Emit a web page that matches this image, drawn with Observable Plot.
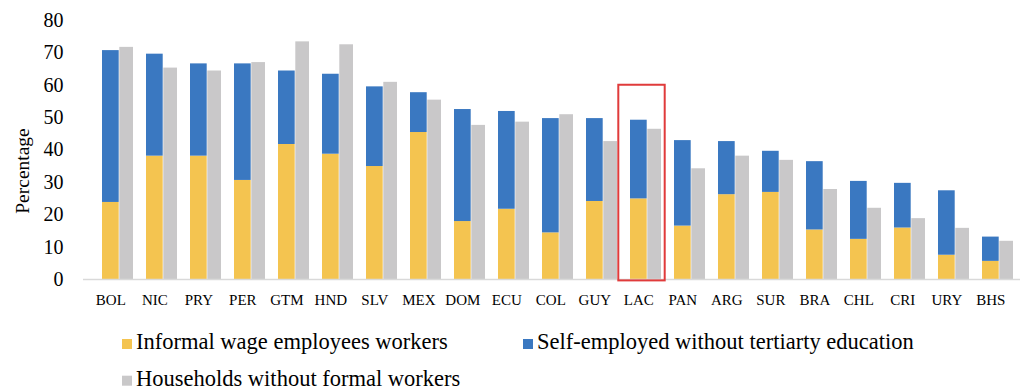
<!DOCTYPE html>
<html>
<head>
<meta charset="utf-8">
<script src="https://cdn.jsdelivr.net/npm/d3@7"></script>
<script src="https://cdn.jsdelivr.net/npm/@observablehq/plot@0.6"></script>
<style>
  html, body { margin: 0; padding: 0; background: #fff; }
  #chart { width: 1024px; height: 391px; position: relative; overflow: hidden; }
  #chart svg { display: block; }
</style>
</head>
<body>
<div id="chart"></div>
<script>
const countries = ["BOL","NIC","PRY","PER","GTM","HND","SLV","MEX","DOM","ECU","COL","GUY","LAC","PAN","ARG","SUR","BRA","CHL","CRI","URY","BHS"];
const informalWage = [23.8,38.1,38.1,30.6,41.7,38.7,34.9,45.4,17.9,21.7,14.4,24.1,24.9,16.5,26.2,26.9,15.3,12.4,15.9,7.5,5.6];
const selfEmployed = [46.9,31.5,28.5,36.0,22.7,24.7,24.6,12.3,34.6,30.2,35.3,25.6,24.3,26.4,16.4,12.7,21.1,17.9,13.8,19.9,7.5];
const households = [71.7,65.3,64.4,67.0,73.4,72.5,60.9,55.4,47.6,48.6,50.9,42.6,46.4,34.2,38.1,36.8,27.8,22.0,18.8,15.8,11.8];
const seriesNames = ["Informal wage employees workers","Self-employed without tertiarty education","Households without formal workers"];
const seriesColors = ["#F4C450","#3A78C1","#C9C8C9"];
const yTicks = [0,10,20,30,40,50,60,70,80];
const highlightCountries = ["LAC"];
const highlightTop = [60];

const stacked = [];
countries.forEach((c, i) => {
  stacked.push({country: c, series: seriesNames[0], value: informalWage[i]});
  stacked.push({country: c, series: seriesNames[1], value: selfEmployed[i]});
});
const grayData = countries.map((c, i) => ({country: c, series: seriesNames[2], value: households[i]}));
const highlightData = highlightCountries.map((c, i) => ({country: c, value: highlightTop[i]}));

const FONT = "'Liberation Serif', 'Times New Roman', serif";

const chart = Plot.plot({
  width: 1024,
  height: 310,
  marginLeft: 83,
  marginRight: 4,
  marginTop: 20,
  marginBottom: 31,
  style: {fontFamily: FONT, color: "#000", background: "white"},
  x: {type: "band", domain: countries, paddingInner: 0.288, paddingOuter: 0.191, align: 0.747},
  y: {domain: [0, 80]},
  color: {domain: seriesNames, range: seriesColors},
  marks: [
    Plot.barY(stacked, {x: "country", y: "value", fill: "series", insetRight: 14.3}),
    Plot.barY(grayData, {x: "country", y: "value", fill: "series", insetLeft: 17.3}),
    Plot.ruleY([0], {stroke: "#D9D9D9", strokeWidth: 1.5}),
    Plot.barY(highlightData, {x: "country", y: "value", fill: "none", stroke: "#E03B3B", strokeWidth: 2, insetLeft: -11.7, insetRight: -3.7, insetBottom: -1.4}),
    Plot.axisY({ticks: yTicks, tickSize: 0, tickPadding: 20, fontSize: 20, label: null}),
    Plot.axisX({tickSize: 0, tickPadding: 15, fontSize: 15, dx: -7.15, label: null}),
    Plot.text(["Percentage"], {frameAnchor: "left", textAnchor: "middle", dx: -61, dy: 21, rotate: -90, fontSize: 19.5, fill: "#000"})
  ]
});
document.getElementById("chart").appendChild(chart);

// Legend below the plot
const legendItems = [
  {name: seriesNames[0], color: seriesColors[0], x: 122, row: 0},
  {name: seriesNames[1], color: seriesColors[1], x: 523, row: 0},
  {name: seriesNames[2], color: seriesColors[2], x: 122, row: 1}
];
const rowBaselines = [39, 75.7];
const legend = d3.create("svg").attr("width", 1024).attr("height", 81)
  .style("font-family", FONT).style("display", "block");
const g = legend.selectAll("g").data(legendItems).join("g");
g.append("rect")
  .attr("x", d => d.x).attr("y", d => rowBaselines[d.row] - 10)
  .attr("width", 10).attr("height", 10).attr("fill", d => d.color);
g.append("text")
  .attr("x", d => d.x + 14).attr("y", d => rowBaselines[d.row])
  .attr("font-size", 22.5).attr("fill", "#000")
  .text(d => d.name);
document.getElementById("chart").appendChild(legend.node());
</script>
</body>
</html>
